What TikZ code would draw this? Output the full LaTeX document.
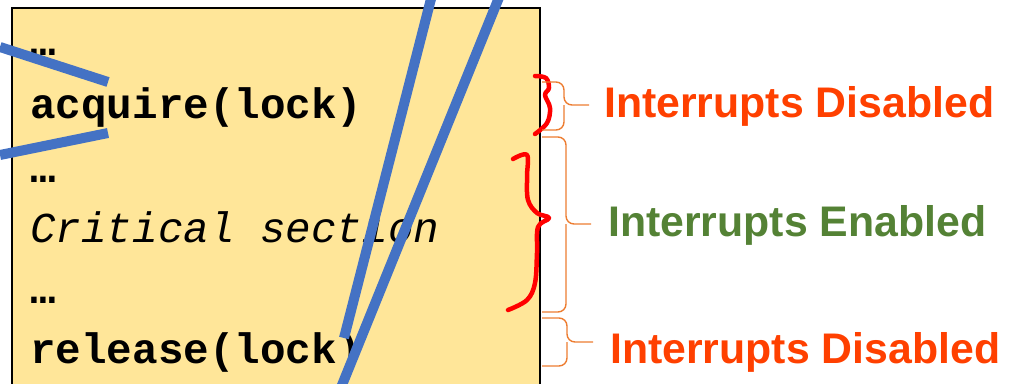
\documentclass[tikz,border=0pt]{standalone}
\usepackage{fontspec}
\usepackage{tikz}
\usetikzlibrary{positioning}
\setmainfont{Liberation Sans}
\newfontfamily\codefont{Liberation Mono}
\definecolor{boxyellow}{RGB}{255, 230, 153}
\definecolor{strikeblue}{RGB}{68, 114, 196}
\definecolor{braceorange}{RGB}{237, 125, 49}
\definecolor{offred}{RGB}{255, 64, 0}
\definecolor{ongreen}{RGB}{84, 130, 53}
\definecolor{inkred}{RGB}{255, 0, 0}
\tikzset{
  codebox/.style={draw=black, line width=2pt, fill=boxyellow},
  code/.style={anchor=base west, inner sep=0pt, font=\codefont\fontsize{42.6}{50}\selectfont\bfseries},
  codeit/.style={code, font=\codefont\fontsize{42.6}{50}\selectfont\itshape},
  state/.style={anchor=base west, inner sep=0pt, font=\fontsize{42.8}{50}\selectfont\bfseries},
  strike/.style={line width=10pt, strikeblue},
  obrace/.style={line width=1.4pt, braceorange, rounded corners=8pt},
  ink/.style={line width=4.5pt, inkred, line cap=round, line join=round},
}
\begin{document}
\begin{tikzpicture}[x=1pt, y=-1pt]
    \useasboundingbox (0,0) rectangle (1009,383);
    \clip (0,0) rectangle (1009,383);
    \draw[codebox] (12,8) rectangle (540,400);
    % code lines
    \node[code] (d1) at (30,55) {…};
    \node[code] (acq) at (30,118) {acquire(lock)};
    \node[code] (d2) at (30,182) {…};
    \node[codeit] (cs) at (30,242) {Critical section};
    \node[code] (d3) at (30,303) {…};
    \node[code] (rel) at (30,363) {release(lock)};
    % strokes over the code
    \draw[strike] (0,47) -- (108,82);
    \draw[strike] (0,155) -- (108,133);
    \draw[strike] (432,-5) -- (344,338);
    \draw[strike] (500,-5) -- (340,390);
    % hand-drawn braces
    \draw[ink] plot[smooth, tension=0.6] coordinates {(535,76) (546,78) (549,88) (545,95) (550,108) (547,123) (535,134)};
    \draw[ink] plot[smooth, tension=0.6] coordinates {(513,159) (527,155) (527,177) (528,200) (537,213) (549,218) (538,227) (537,253) (535,283) (527,300) (508,310)};
    % braces and states
    \draw[obrace] (542,82) -| (564,105) -- (589,105);
    \draw[obrace] (542,130) -| (564,105);
    \draw[obrace] (542,137) -| (566,224) -- (591,224);
    \draw[obrace] (542,312) -| (566,224);
    \draw[obrace] (542,318) -| (567,342) -- (593,342);
    \draw[obrace] (542,366) -| (567,342);
    \node[state, offred] (dis1) at (604,117) {Interrupts Disabled};
    \node[state, ongreen] (en) at (608,236) {Interrupts Enabled};
    \node[state, offred] (dis2) at (610,363) {Interrupts Disabled};
  \end{tikzpicture}
\end{document}
